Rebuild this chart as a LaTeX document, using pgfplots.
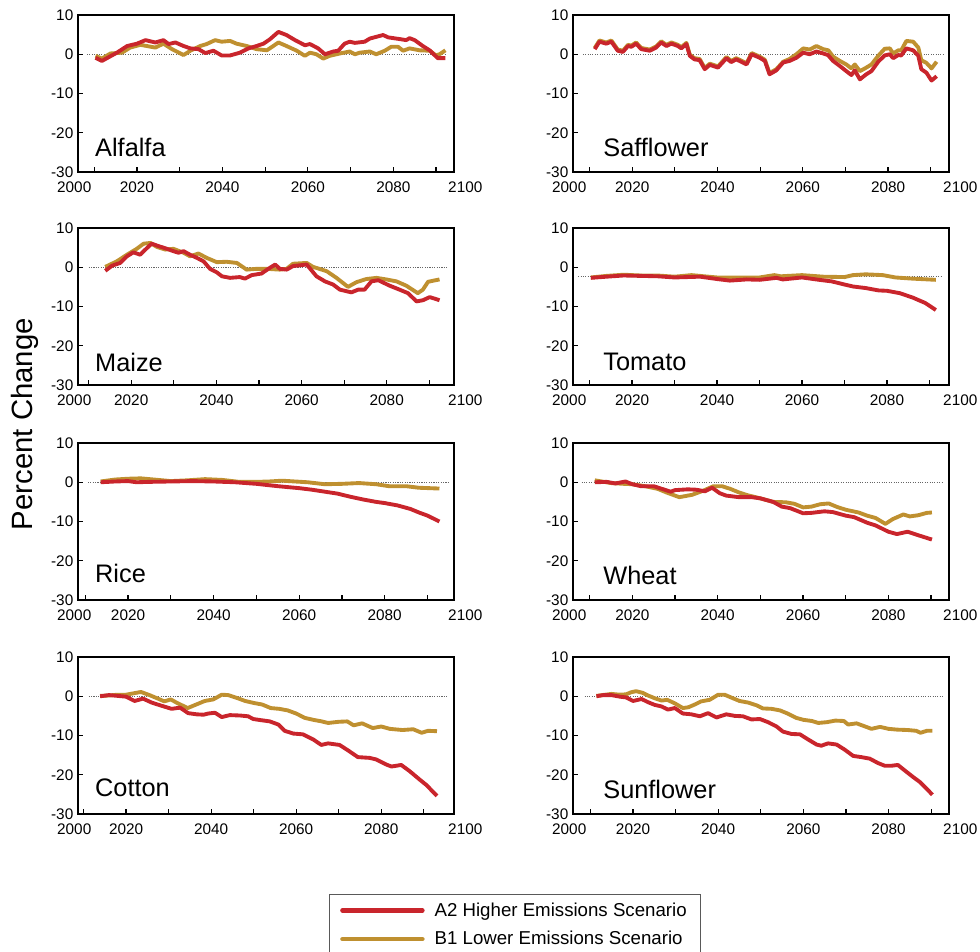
\documentclass[border=0pt]{standalone}
\usepackage{pgfplots}
\pgfplotsset{compat=1.18}
\usepackage{fontspec}
\setmainfont{Liberation Sans}
\definecolor{aredcol}{HTML}{C9252C}
\definecolor{bgoldcol}{HTML}{BF9030}
\newcommand\ticklab{\fontsize{11.5}{13.5}\selectfont}
\newcommand\croplab{\fontsize{19}{22}\selectfont}

\pgfplotsset{
  panel/.style={
    scale only axis, width=282pt, height=117.75pt,
    anchor=north west, clip=false,
    ymin=-30, ymax=10, ytick={-30,-20,...,10},
    xtick={2010,2020,...,2090},
    xticklabels={,2020,,2040,,2060,,2080,},
    tick align=inside, tick pos=left,
    major tick length=4pt,
    axis line style={line width=1pt},
    every tick/.style={black, line width=0.9pt},
    tick label style={font=\ticklab},
    xticklabel style={yshift=-4pt},
    /pgf/number format/assume math mode=true,
    legend image code/.code={\draw[#1, line width=3.3pt, line cap=round] (0pt,0pt) -- (60pt,0pt);},
  },
  a2/.style={draw=aredcol, line width=2.9pt, line join=round},
  b1/.style={draw=bgoldcol, line width=2.9pt, line join=round},
  zero/.style={gray!80!black, densely dotted, line width=0.8pt, forget plot},
}
\newcommand\edgeyears{%
  \node[anchor=north, font=\ticklab, yshift=-4pt] at (rel axis cs:-0.01,0) {2000};
  \node[anchor=north, font=\ticklab, yshift=-4pt] at (rel axis cs:1.03,0) {2100};}

\begin{document}
\begin{tikzpicture}

% ---------------- Alfalfa
\begin{axis}[panel, at={(58.5pt,-11.25pt)}, xmin=2006.2, xmax=2094.2]
\addplot[zero] coordinates {(2008.3,0) (2092.5,0)};
\addplot[b1] coordinates {(2010.3,-0.4)(2011.8,-1.1)(2013.8,0.2)(2016.5,0.4)(2018.4,1.7)(2020.8,2.4)(2024.3,1.7)(2026.2,2.7)(2028.2,1.3)(2030.9,-0.2)(2032.5,0.9)(2034.8,2.1)(2036.3,2.6)(2038.3,3.6)(2039.8,3.2)(2041.8,3.4)(2043.3,2.7)(2045.7,2.1)(2048,1.3)(2050.4,1.0)(2051.9,2.1)(2053.1,3.0)(2055,2.1)(2057.4,0.9)(2059.3,-0.4)(2060.5,0.4)(2062,0)(2063.6,-1.1)(2065.1,-0.4)(2067.5,0.2)(2069.8,0.7)(2071,0)(2072.1,0.4)(2074.5,0.7)(2076,0)(2078,0.9)(2079.5,1.9)(2081.1,1.9)(2082.3,0.9)(2083.8,1.5)(2086.2,1.0)(2088.5,0.9)(2090,-0.3)(2090.8,0)(2092.2,1.0)};
\addplot[a2] coordinates {(2010.3,-0.9)(2011.8,-1.7)(2015.3,0.4)(2017.7,2.1)(2020,2.7)(2022,3.6)(2024.3,3.0)(2026.2,3.6)(2027.4,2.6)(2029,3.0)(2030.9,2.1)(2032.5,1.5)(2034.4,1.3)(2036,0.3)(2037.9,0.9)(2039.8,-0.3)(2041.8,-0.3)(2044.1,0.4)(2046.1,1.5)(2048,2.1)(2049.6,2.7)(2051.1,3.8)(2053.1,5.7)(2055,4.9)(2057,3.6)(2059.3,2.3)(2060.5,2.6)(2062.4,1.5)(2064,0)(2065.9,0.7)(2067.1,0.9)(2068.6,2.7)(2069.8,3.2)(2071,2.9)(2073.3,3.2)(2074.5,4.0)(2077.6,4.9)(2078.8,4.3)(2081.9,3.8)(2083,3.6)(2083.8,4.1)(2085,3.6)(2086.9,2.1)(2088.5,1.0)(2090.4,-1.0)(2092.2,-1.0)};
\node[anchor=base west, inner sep=0pt, font=\croplab] at (rel axis cs:0.045,0.096) {Alfalfa};
\edgeyears
\end{axis}

% ---------------- Safflower
\begin{axis}[panel, at={(429.75pt,-11.25pt)}, xmin=2006.1, xmax=2094.3]
\addplot[zero] coordinates {(2008.4,0) (2092.9,0)};
\addplot[b1] coordinates {(2011.2,1.6)(2012.3,3.5)(2013.9,3.0)(2015.1,3.5)(2016.6,1.2)(2017.8,0.9)(2019,2.4)(2019.8,2.2)(2020.9,3.0)(2022.1,1.6)(2024.1,1.2)(2025.6,2.0)(2026.8,3.3)(2028,2.4)(2029.2,3.0)(2030.7,2.4)(2031.5,1.8)(2032.7,2.9)(2033.5,-0.1)(2034.6,-1.0)(2035.8,-1.2)(2037,-3.5)(2038.2,-2.4)(2040.1,-3.1)(2042.1,-0.7)(2043.2,-1.7)(2044.4,-1.0)(2046.8,-2.3)(2048,0.3)(2049.9,-0.6)(2051.1,-1.4)(2052.2,-4.8)(2053.8,-3.8)(2055.4,-1.9)(2056.9,-1.2)(2058.5,0.0)(2060.1,1.5)(2061.6,1.2)(2063.2,2.1)(2064.8,1.3)(2066,1.0)(2067.1,-0.6)(2068.7,-1.7)(2070.2,-2.6)(2071.4,-3.6)(2072.2,-2.6)(2073.4,-4.3)(2074.9,-3.4)(2076.1,-2.6)(2077.7,-0.4)(2079.2,1.4)(2080.4,1.5)(2081.2,0.2)(2082.4,1.0)(2083.1,1.0)(2084.3,3.4)(2085.9,3.2)(2087.1,1.7)(2087.8,-1.5)(2089,-2.2)(2090.2,-3.6)(2091.4,-1.9)};
\addplot[a2] coordinates {(2011.2,1.3)(2012.3,3.2)(2013.9,2.7)(2015.1,3.2)(2016.6,0.9)(2017.8,0.6)(2019,2.1)(2019.8,1.9)(2020.9,2.7)(2022.1,1.3)(2024.1,0.9)(2025.6,1.7)(2026.8,3.0)(2028,2.1)(2029.2,2.7)(2030.7,2.1)(2031.5,1.5)(2032.7,2.6)(2033.5,-0.4)(2034.6,-1.3)(2035.8,-1.5)(2037,-3.8)(2038.2,-2.7)(2040.1,-3.4)(2042.1,-1.0)(2043.2,-2.0)(2044.4,-1.3)(2046.8,-2.6)(2048,0)(2049.9,-0.9)(2051.1,-1.7)(2052.2,-5.1)(2053.8,-4.1)(2055.4,-2.1)(2056.9,-1.7)(2058.5,-0.9)(2060.1,0.4)(2061.6,0)(2063.2,0.7)(2064.8,0.2)(2065.9,-0.2)(2067.1,-1.7)(2068.7,-3.0)(2070.2,-4.3)(2071.4,-5.3)(2072.2,-4.1)(2073.4,-6.4)(2074.9,-5.1)(2076.1,-4.3)(2077.7,-1.9)(2079.2,-0.3)(2080.4,0)(2081.2,-1.0)(2082.4,-0.2)(2083.1,-0.3)(2084.3,1.5)(2085.9,1.0)(2087.1,-0.4)(2087.8,-3.8)(2089,-4.7)(2090.2,-6.7)(2091.4,-5.6)};
\node[anchor=base west, inner sep=0pt, font=\croplab] at (rel axis cs:0.08,0.096) {Safflower};
\edgeyears
\end{axis}

% ---------------- Maize
\begin{axis}[panel, at={(58.5pt,-171pt)}, xmin=2007.5, xmax=2095.8]
\addplot[zero] coordinates {(2010,0) (2094.1,0)};
\addplot[b1] coordinates {(2013.9,0.1)(2016.6,1.5)(2019,3.2)(2021.3,4.7)(2022.9,6.0)(2024.5,6.2)(2026,5.2)(2028,4.5)(2029.9,4.7)(2032.3,3.7)(2033.8,2.8)(2035.8,3.5)(2037.7,2.4)(2040.1,1.3)(2042.4,1.4)(2044.8,1.1)(2047.1,-0.6)(2049.5,-0.4)(2051.8,-0.4)(2054.9,-0.6)(2056.5,-0.4)(2058,0.9)(2061.2,1.1)(2062.7,0.1)(2065.9,-1.0)(2068.2,-2.7)(2070.9,-5.0)(2072.9,-3.8)(2075.2,-3.0)(2077.6,-2.7)(2079.9,-3.1)(2082.3,-3.6)(2084.6,-4.7)(2087.3,-6.6)(2088.5,-5.7)(2089.7,-3.7)(2092.4,-3.1)};
\addplot[a2] coordinates {(2013.9,-0.9)(2015.5,0.4)(2017.4,1.1)(2019,2.8)(2020.5,3.8)(2022.1,3.2)(2023.7,4.9)(2024.8,6.0)(2026.4,5.4)(2028.4,4.7)(2029.9,4.1)(2031.1,3.7)(2032.3,4.1)(2033.8,3.2)(2035.4,2.4)(2037,1.5)(2038.5,-0.4)(2040.1,-1.3)(2041.3,-2.3)(2043.2,-2.7)(2045.5,-2.5)(2046.7,-2.9)(2048.3,-2.0)(2050.6,-1.6)(2052.2,-0.4)(2053.8,0.7)(2054.9,-0.4)(2056.5,-0.6)(2058,0.3)(2061.2,0.7)(2063.5,-2.3)(2065.5,-3.6)(2067.4,-4.4)(2069,-5.7)(2071.7,-6.4)(2073.3,-5.7)(2074.8,-5.7)(2076.4,-3.6)(2078,-3.3)(2080.7,-4.7)(2083,-5.7)(2085,-6.6)(2087,-8.7)(2088.5,-8.4)(2090.1,-7.6)(2092.4,-8.4)};
\node[anchor=base west, inner sep=0pt, font=\croplab] at (rel axis cs:0.045,0.085) {Maize};
\edgeyears
\end{axis}

% ---------------- Tomato
\begin{axis}[panel, at={(429.75pt,-171pt)}, xmin=2006.1, xmax=2094.6]
\addplot[zero] coordinates {(2007.3,-2.3) (2092.7,-2.3)};
\addplot[b1] coordinates {(2010.3,-2.6)(2014,-2.2)(2018,-1.9)(2022,-2.1)(2026,-2.1)(2030,-2.4)(2034,-2.0)(2040,-2.6)(2045,-2.6)(2050,-2.6)(2053.5,-2.0)(2055,-2.3)(2060,-2.0)(2065,-2.4)(2070,-2.5)(2072,-2.0)(2075,-1.8)(2079,-2.0)(2082,-2.6)(2086,-2.9)(2091.5,-3.2)};
\addplot[a2] coordinates {(2010.3,-2.7)(2014,-2.4)(2018,-2.1)(2022,-2.2)(2026,-2.3)(2030,-2.6)(2036,-2.4)(2040,-3.0)(2043,-3.4)(2047,-3.1)(2050,-3.2)(2054,-2.7)(2055.5,-3.1)(2060,-2.6)(2064,-3.2)(2067,-3.6)(2070,-4.4)(2072,-4.9)(2075,-5.3)(2078,-5.9)(2080,-6.0)(2083,-6.6)(2086,-7.7)(2089,-9.1)(2091.5,-10.9)};
\node[anchor=base west, inner sep=0pt, font=\croplab] at (rel axis cs:0.08,0.09) {Tomato};
\edgeyears
\end{axis}

% ---------------- Rice
\begin{axis}[panel, at={(58.5pt,-332.25pt)}, xmin=2008.3, xmax=2096.2]
\addplot[zero] coordinates {(2010.6,0) (2094.8,0)};
\addplot[b1] coordinates {(2013.6,0.2)(2017,0.7)(2020,0.9)(2023,1.0)(2026,0.7)(2030,0.3)(2034,0.5)(2038,0.8)(2042,0.6)(2046,0.1)(2050,0.1)(2053,0.2)(2056,0.4)(2059,0.2)(2062,0)(2066,-0.5)(2070,-0.4)(2074,-0.2)(2078,-0.5)(2081,-1.0)(2085,-1.0)(2088,-1.4)(2092.8,-1.6)};
\addplot[a2] coordinates {(2013.6,0)(2017,0.2)(2020,0.3)(2022,0)(2025,0.1)(2030,0.2)(2035,0.3)(2040,0.2)(2045,0)(2050,-0.4)(2055,-1.0)(2060,-1.5)(2063,-1.9)(2066,-2.4)(2069,-2.9)(2072,-3.7)(2075,-4.4)(2078,-5.0)(2080,-5.3)(2083,-5.9)(2086,-6.8)(2088,-7.7)(2090,-8.5)(2092.8,-10.0)};
\node[anchor=base west, inner sep=0pt, font=\croplab] at (rel axis cs:0.045,0.11) {Rice};
\edgeyears
\end{axis}

% ---------------- Wheat
\begin{axis}[panel, at={(429.75pt,-332.25pt)}, xmin=2006.1, xmax=2094.2]
\addplot[zero] coordinates {(2008.1,0) (2092.7,0)};
\addplot[b1] coordinates {(2011.2,0.5)(2015,-0.2)(2018,-0.4)(2020,-0.5)(2023,-1.0)(2026,-1.7)(2028,-2.6)(2031,-3.8)(2034,-3.2)(2036.5,-2.2)(2039,-1.0)(2041,-1.0)(2043,-1.7)(2045,-2.6)(2047,-3.3)(2050,-4.1)(2053,-5.0)(2056,-5.1)(2058,-5.5)(2060,-6.4)(2062,-6.2)(2064,-5.6)(2066,-5.4)(2068,-6.3)(2070,-7.0)(2073,-7.7)(2075,-8.5)(2077,-9.1)(2079.3,-10.6)(2081,-9.4)(2083.5,-8.2)(2085,-8.7)(2087,-8.4)(2089,-7.8)(2090.2,-7.7)};
\addplot[a2] coordinates {(2011.2,0)(2014,0.1)(2016,-0.3)(2018.4,0.2)(2020,-0.5)(2022,-1.0)(2025,-1.0)(2027,-1.7)(2029,-2.4)(2030,-2.0)(2033,-1.8)(2035,-1.9)(2037,-2.3)(2038.7,-1.4)(2040.5,-2.8)(2042,-3.4)(2045,-3.8)(2048,-3.8)(2050,-4.1)(2053,-5.0)(2055,-6.2)(2057,-6.6)(2060,-7.9)(2062,-7.8)(2065,-7.4)(2067,-7.6)(2070,-8.5)(2072,-8.9)(2075,-10.3)(2077,-11.0)(2080,-12.6)(2082,-13.2)(2084.5,-12.6)(2087,-13.5)(2090.2,-14.6)};
\node[anchor=base west, inner sep=0pt, font=\croplab] at (rel axis cs:0.08,0.1) {Wheat};
\edgeyears
\end{axis}

% ---------------- Cotton (carries the legend)
\begin{axis}[panel, at={(58.5pt,-492.75pt)}, xmin=2008.7, xmax=2097.1,
  reverse legend,
  legend cell align=left,
  legend style={at={(0.6676,-0.5096)}, anchor=north west,
    draw=gray!70!black, line width=0.8pt,
    font=\fontsize{14}{16}\selectfont,
    inner xsep=8pt, inner ysep=3.5pt, row sep=5pt, column sep=5pt,
    nodes={inner sep=2.5pt}},
]
\addplot[zero] coordinates {(2011.2,0) (2095.4,0)};
\addplot[b1] coordinates {(2013.9,0.1)(2016,0.2)(2018,0.4)(2020,0.4)(2021,0.6)(2023.5,1.1)(2025.5,0.3)(2027.5,-0.6)(2029,-1.3)(2030.5,-0.8)(2032,-1.7)(2034.5,-3.0)(2036.5,-2.1)(2038.5,-1.2)(2040.5,-0.8)(2042.5,0.4)(2044,0.3)(2046,-0.4)(2048,-1.2)(2050,-1.7)(2052,-2.1)(2054,-3.0)(2056,-3.2)(2058,-3.6)(2060,-4.4)(2062,-5.5)(2064,-6.0)(2066,-6.4)(2067.5,-6.8)(2070,-6.5)(2072,-6.4)(2073.5,-7.4)(2075.5,-6.9)(2078,-8.1)(2080,-7.7)(2082,-8.3)(2085,-8.6)(2087.5,-8.4)(2089.5,-9.3)(2091,-8.8)(2093.1,-8.9)};
\addlegendentry{B1 Lower Emissions Scenario}
\addplot[a2] coordinates {(2013.9,0)(2016,0.3)(2018,0.1)(2020,-0.1)(2022,-1.2)(2024,-0.6)(2026,-1.6)(2028,-2.3)(2030.7,-3.2)(2032.7,-2.9)(2034.6,-4.3)(2036.6,-4.6)(2038.2,-4.7)(2039.3,-4.4)(2040.9,-4.2)(2042.5,-5.3)(2044.4,-4.8)(2046.8,-4.9)(2048.7,-5.1)(2049.9,-5.8)(2051.8,-6.1)(2053.8,-6.4)(2055.8,-7.2)(2057.3,-8.8)(2059.3,-9.5)(2061.6,-9.7)(2064,-11.0)(2065.9,-12.4)(2067.5,-12.0)(2070.2,-12.4)(2072.2,-13.8)(2074.5,-15.5)(2077.3,-15.7)(2078.8,-16.1)(2081.2,-17.4)(2082.4,-17.9)(2084.7,-17.5)(2086.7,-19.1)(2089,-21.2)(2090.6,-22.6)(2093.1,-25.4)};
\addlegendentry{A2 Higher Emissions Scenario}
\node[anchor=base west, inner sep=0pt, font=\croplab] at (rel axis cs:0.045,0.11) {Cotton};
\edgeyears
\end{axis}

% ---------------- Sunflower
\begin{axis}[panel, at={(429.75pt,-492.75pt)}, xmin=2005.9, xmax=2094.2]
\addplot[zero] coordinates {(2008.6,0) (2092.8,0)};
\addplot[b1] coordinates {(2011.4,0.1)(2014.9,0.6)(2016.9,0.4)(2018.4,0.5)(2019.5,1.0)(2020.7,1.3)(2022.2,0.9)(2023.5,0.2)(2025.1,-0.5)(2026.7,-1.1)(2028,-0.9)(2029.8,-1.8)(2031.7,-3.0)(2033,-2.8)(2034.5,-2.1)(2036,-1.3)(2038,-0.9)(2040,0.4)(2041.5,0.4)(2043,-0.3)(2045,-1.2)(2047,-1.6)(2049,-2.3)(2050.5,-3.1)(2052.5,-3.2)(2054.5,-3.6)(2056.3,-4.4)(2058.3,-5.5)(2060,-6.0)(2062,-6.3)(2063.5,-6.8)(2065.5,-6.6)(2067.5,-6.2)(2069.5,-6.3)(2070.5,-7.2)(2072.5,-6.9)(2074.5,-7.7)(2076,-8.3)(2078,-7.8)(2080,-8.3)(2082,-8.5)(2084.5,-8.6)(2086.5,-8.8)(2087.5,-9.3)(2089,-8.8)(2090.3,-8.8)};
\addplot[a2] coordinates {(2011.4,0)(2013,0.3)(2014.9,0.3)(2016.9,-0.1)(2018.4,-0.3)(2020,-1.2)(2022,-0.7)(2023.5,-1.5)(2025.1,-2.2)(2026.7,-2.6)(2028.2,-3.4)(2029.8,-3.0)(2031.7,-4.4)(2033.7,-4.6)(2035.7,-5.1)(2037.6,-4.3)(2039.6,-5.4)(2041.9,-4.6)(2043.9,-5.0)(2045.8,-5.1)(2047.8,-5.9)(2049.8,-5.8)(2051.7,-6.6)(2053.7,-7.7)(2055.2,-9.0)(2057.2,-9.6)(2059.2,-9.7)(2061.1,-11.0)(2063.1,-12.3)(2064.2,-12.6)(2065.8,-12.0)(2067.8,-12.3)(2069.7,-13.6)(2071.7,-15.2)(2073.6,-15.5)(2075.6,-15.9)(2077.5,-17.0)(2079.1,-17.7)(2080.7,-17.7)(2082.2,-17.5)(2083.8,-18.9)(2085.8,-20.6)(2087.3,-21.8)(2088.9,-23.5)(2090.3,-25.1)};
\node[anchor=base west, inner sep=0pt, font=\croplab] at (rel axis cs:0.08,0.1) {Sunflower};
\edgeyears
\end{axis}

\node[rotate=90, anchor=base, font=\fontsize{22}{26}\selectfont] at (24pt,-318pt) {Percent Change};

\pgfresetboundingbox
\useasboundingbox (0,0) rectangle (735pt,-713.25pt);
\end{tikzpicture}
\end{document}
